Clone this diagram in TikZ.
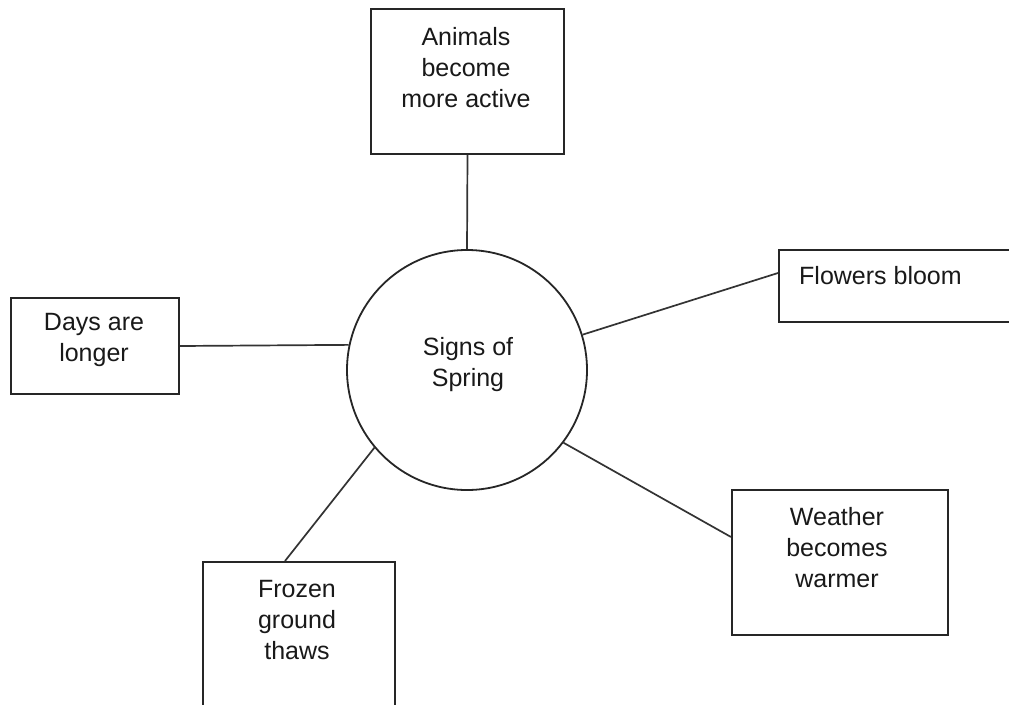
\documentclass[tikz,border=0pt]{standalone}
\usepackage{fontspec}
\setmainfont{Liberation Sans}
\begin{document}
\begin{tikzpicture}[x=1pt,y=-1pt,
  box/.style={draw=black!85, line width=2pt, inner sep=0pt, rectangle},
  hub/.style={draw=black!85, line width=1.8pt, inner sep=0pt, circle, minimum size=240pt},
  txt/.style={font=\fontsize{25}{31}\selectfont, align=center, inner sep=0pt, text=black!90},
  link/.style={line width=1.7pt, draw=black!80}]
\clip (0,0) rectangle (1009,704);
\fill[white] (0,0) rectangle (1009,704);
% boxes
\node[box, minimum width=193pt, minimum height=145pt] (animals) at (467.5,81.5) {};
\node[box, minimum width=251pt, minimum height=72pt] (flowers) at (904.5,286) {};
\node[box, minimum width=168pt, minimum height=96pt] (days) at (95,346) {};
\node[box, minimum width=216pt, minimum height=145pt] (weather) at (840,562.5) {};
\node[box, minimum width=192pt, minimum height=145pt] (frozen) at (299,634.5) {};
\node[hub] (spring) at (467,370) {};
% connectors
\coordinate (flin) at ([yshift=13pt]flowers.west);
\coordinate (wein) at ([yshift=25.5pt]weather.west);
\coordinate (frin) at ([xshift=-14pt]frozen.north);
\draw[link] (animals.south) -- (spring.north);
\draw[link] (days.east) -- (spring.168.5);
\draw[link] (spring.17.7) -- (flin);
\draw[link] (spring.-37.4) -- (wein);
\draw[link] (spring.-140.6) -- (frin);
% texts
\node[txt, anchor=north] (tanimals) at (466,27) {Animals\\become\\more active};
\node[txt, anchor=north west] (tflowers) at (799,266) {Flowers bloom};
\node[txt, anchor=north] (tdays) at (94,313) {Days are\\longer};
\node[txt, anchor=north] (tspring) at (468,337) {Signs of\\Spring};
\node[txt, anchor=north] (tweather) at (837,507) {Weather\\becomes\\warmer};
\node[txt, anchor=north] (tfrozen) at (297,580) {Frozen\\ground\\thaws};
\end{tikzpicture}
\end{document}
